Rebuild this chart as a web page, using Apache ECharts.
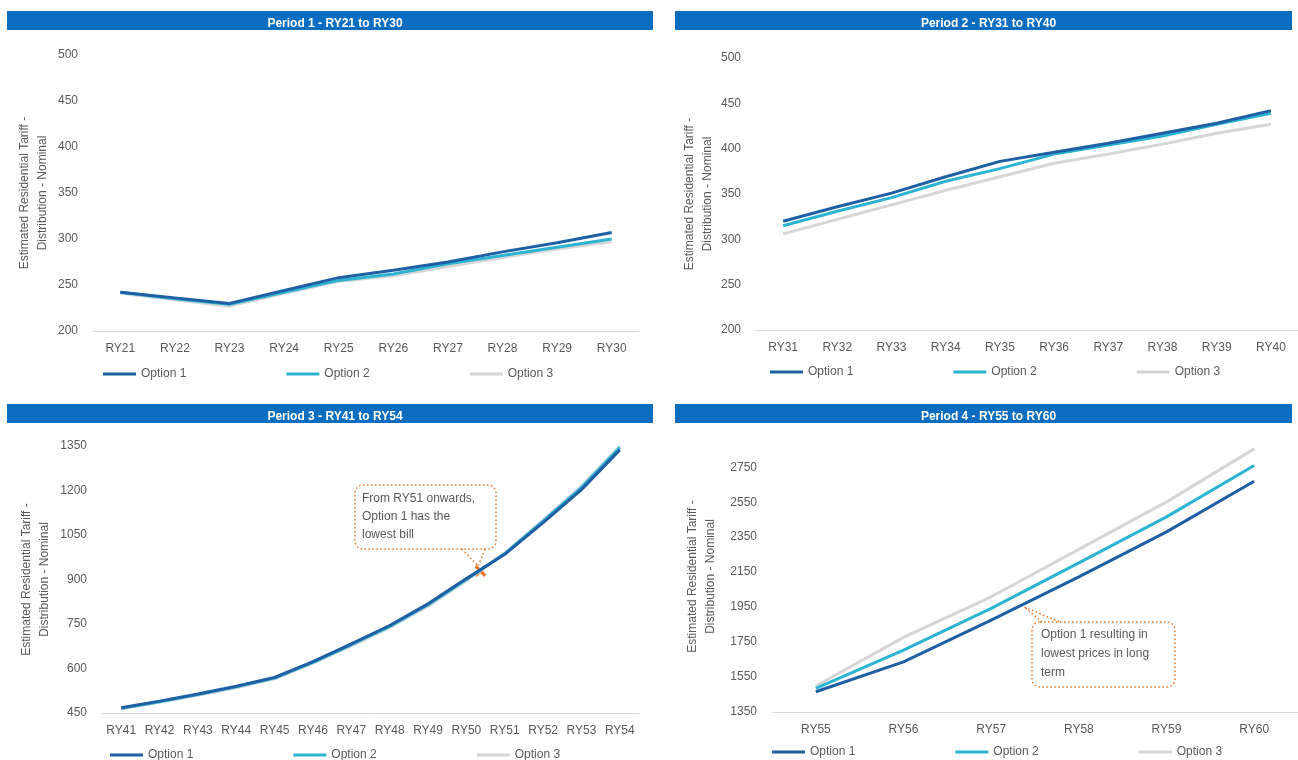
<!DOCTYPE html>
<html>
<head>
<meta charset="utf-8">
<script src="https://cdn.jsdelivr.net/npm/echarts@6/dist/echarts.min.js"></script>
<style>
  html, body { margin: 0; padding: 0; background: #fff; }
  #chart { width: 1298px; height: 760px; }
</style>
</head>
<body>
<div id="chart"></div>
<script>
  // categories per period
  const cats1 = ['RY21', 'RY22', 'RY23', 'RY24', 'RY25', 'RY26', 'RY27', 'RY28', 'RY29', 'RY30']
  const cats2 = ['RY31', 'RY32', 'RY33', 'RY34', 'RY35', 'RY36', 'RY37', 'RY38', 'RY39', 'RY40']
  const cats3 = ['RY41', 'RY42', 'RY43', 'RY44', 'RY45', 'RY46', 'RY47', 'RY48', 'RY49', 'RY50', 'RY51', 'RY52', 'RY53', 'RY54']
  const cats4 = ['RY55', 'RY56', 'RY57', 'RY58', 'RY59', 'RY60']

  const seriesNames = ['Option 1', 'Option 2', 'Option 3']
  const titles = ['Period 1 - RY21 to RY30', 'Period 2 - RY31 to RY40', 'Period 3 - RY41 to RY54', 'Period 4 - RY55 to RY60']

  // period 1
  const p1opt1 = [242, 236, 230, 244, 258, 266, 275, 286, 296, 307]
  const p1opt2 = [242, 235, 229, 242, 255, 262, 273, 282, 291, 300]
  const p1opt3 = [241, 234, 227, 241, 254, 260, 270, 280, 289, 297]
  // period 2
  const p2opt1 = [320, 336, 351, 369, 386, 396, 406, 417, 428, 442]
  const p2opt2 = [315, 331, 346, 364, 378, 394, 404, 414, 427, 439]
  const p2opt3 = [306, 322, 338, 354, 369, 384, 394, 405, 417, 427]
  // period 3
  const p3opt1 = [468, 490, 514, 540, 570, 623, 683, 745, 818, 903, 985, 1092, 1203, 1337]
  const p3opt2 = [466, 488, 512, 538, 568, 621, 680, 742, 815, 900, 987, 1097, 1210, 1345]
  const p3opt3 = [464, 486, 510, 535, 565, 618, 676, 738, 810, 896, 990, 1100, 1215, 1350]
  // period 4
  const p4opt1 = [1466, 1637, 1876, 2123, 2380, 2670]
  const p4opt2 = [1485, 1704, 1943, 2203, 2466, 2760]
  const p4opt3 = [1499, 1777, 2009, 2280, 2552, 2855]

  // y axis ranges
  const yRanges = [
    { min: 200, max: 500, interval: 50 },
    { min: 200, max: 500, interval: 50 },
    { min: 450, max: 1350, interval: 150 },
    { min: 1350, max: 2900, interval: 200 },
  ]

  const colors = ['#1f5fa4', '#2cb4d2', '#d6d6d6']
  const textColor = '#595959'
  const font = "'Liberation Sans Narrow', 'Liberation Sans', sans-serif"
  const axisName = 'Estimated Residential Tariff -\nDistribution - Nominal'

  const grids = [
    { left: 93, top: 55, width: 546, height: 276 },
    { left: 756, top: 58, width: 544, height: 272 },
    { left: 102, top: 446, width: 537, height: 267 },
    { left: 772, top: 441, width: 529, height: 271 },
  ]
  const nameGaps = [41, 39, 48, 52]
  const bars = [
    { x: 7, y: 11, w: 646 },
    { x: 675, y: 11, w: 617 },
    { x: 7, y: 404, w: 646 },
    { x: 675, y: 404, w: 617 },
  ]
  const legendPos = [
    { left: 103, top: 368 },
    { left: 770, top: 366 },
    { left: 110, top: 749 },
    { left: 772, top: 746 },
  ]

  const cats = [cats1, cats2, cats3, cats4]
  const data = [
    [p1opt1, p1opt2, p1opt3],
    [p2opt1, p2opt2, p2opt3],
    [p3opt1, p3opt2, p3opt3],
    [p4opt1, p4opt2, p4opt3],
  ]

  const chart = echarts.init(document.getElementById('chart'))

  const xAxis = cats.map((c, i) => ({
    type: 'category',
    gridIndex: i,
    data: c,
    boundaryGap: true,
    axisTick: { show: false },
    axisLine: { lineStyle: { color: '#d9d9d9', width: 1 } },
    axisLabel: { color: textColor, fontSize: 12, fontFamily: font, margin: 12, interval: 0 },
  }))

  const yAxis = yRanges.map((r, i) => ({
    type: 'value',
    gridIndex: i,
    min: r.min,
    max: r.max,
    interval: r.interval,
    name: axisName,
    nameLocation: 'middle',
    nameGap: nameGaps[i],
    nameTextStyle: { color: textColor, fontSize: 12, fontFamily: font, lineHeight: 18 },
    axisLine: { show: false },
    axisTick: { show: false },
    splitLine: { show: false },
    axisLabel: {
      color: textColor,
      fontSize: 12,
      fontFamily: font,
      margin: 15,
      showMaxLabel: i !== 3,
      formatter: (v) => String(v),
    },
  }))

  const series = []
  data.forEach((group, gi) => {
    group.forEach((vals, si) => {
      const s = {
        type: 'line',
        name: seriesNames[si],
        xAxisIndex: gi,
        yAxisIndex: gi,
        data: vals,
        symbol: 'none',
        lineStyle: { color: colors[si], width: 3 },
        itemStyle: { color: colors[si] },
        z: 10 - si,
      }
      if (gi === 2 && si === 0) {
        s.markPoint = {
          symbol: 'path://M0,2L2,0L5,3L8,0L10,2L7,5L10,8L8,10L5,7L2,10L0,8L3,5Z',
          symbolSize: 12,
          symbolOffset: [14, 0],
          silent: true,
          itemStyle: { color: '#e8782a' },
          label: { show: false },
          data: [{ coord: ['RY50', 929] }],
        }
      }
      series.push(s)
    })
  })

  const legend = legendPos.map((p) => ({
    left: p.left,
    top: p.top,
    padding: 0,
    data: seriesNames,
    icon: 'rect',
    itemWidth: 33,
    itemHeight: 3,
    itemGap: 100,
    selectedMode: false,
    textStyle: { color: textColor, fontSize: 12, fontFamily: font },
  }))

  const title = titles.map((t, i) => ({
    text: t,
    left: bars[i].x + bars[i].w / 2,
    top: bars[i].y + 2,
    textAlign: 'center',
    textStyle: { color: '#fff', fontSize: 12, fontWeight: 'bold', fontFamily: font },
  }))

  const dotted = { stroke: '#e8782a', lineWidth: 1.5, lineDash: [1.5, 2.5], fill: 'none' }

  const graphic = [
    ...bars.map((b) => ({
      type: 'rect',
      shape: { x: b.x, y: b.y, width: b.w, height: 19 },
      style: { fill: '#0b6dc0' },
      z: 0,
    })),
    // callout period 3
    {
      type: 'rect',
      shape: { x: 355, y: 485, width: 141, height: 64, r: 8 },
      style: { ...dotted, fill: '#fff' },
      z: 20,
    },
    {
      type: 'polyline',
      shape: { points: [[462, 549], [478, 566], [485, 549]] },
      style: dotted,
      z: 21,
    },
    {
      type: 'text',
      left: 362,
      top: 490,
      style: {
        text: 'From RY51 onwards,\nOption 1 has the\nlowest bill',
        fill: textColor,
        font: "12px 'Liberation Sans Narrow', 'Liberation Sans', sans-serif",
        lineHeight: 18,
      },
      z: 22,
    },
    // callout period 4
    {
      type: 'rect',
      shape: { x: 1032, y: 622, width: 143, height: 65, r: 8 },
      style: { ...dotted, fill: '#fff' },
      z: 20,
    },
    {
      type: 'polyline',
      shape: { points: [[1042, 622], [1024, 607], [1060, 622]] },
      style: dotted,
      z: 21,
    },
    {
      type: 'text',
      left: 1041,
      top: 625,
      style: {
        text: 'Option 1 resulting in\nlowest prices in long\nterm',
        fill: textColor,
        font: "12px 'Liberation Sans Narrow', 'Liberation Sans', sans-serif",
        lineHeight: 19,
      },
      z: 22,
    },
  ]

  chart.setOption({
    animation: false,
    title,
    grid: grids,
    xAxis,
    yAxis,
    legend,
    series,
    graphic,
  })
</script>
</body>
</html>
